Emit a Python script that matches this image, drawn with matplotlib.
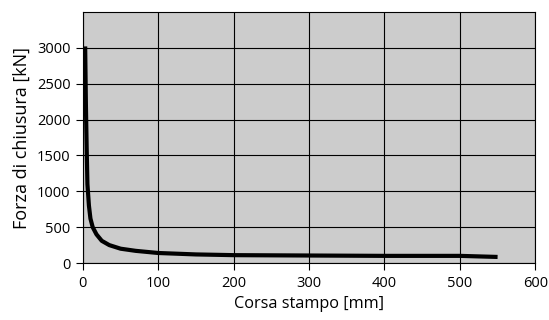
import matplotlib
matplotlib.use('Agg')
import matplotlib.pyplot as plt

# Corsa stampo [mm] vs Forza di chiusura [kN]
corsa = [3, 4, 5, 6, 8, 10, 13, 18, 25, 35, 50, 70, 100, 150, 200, 300, 400, 500, 550]
forza = [3020, 2200, 1600, 1100, 800, 620, 500, 400, 310, 250, 200, 170, 140, 120, 110, 105, 100, 100, 85]

x_ticks = [0, 100, 200, 300, 400, 500, 600]
y_ticks = [0, 500, 1000, 1500, 2000, 2500, 3000]

plt.rcParams['font.family'] = ['Open Sans', 'DejaVu Sans']

fig = plt.figure(figsize=(5.49, 3.2), dpi=100)
ax = fig.add_axes([0.151, 0.178, 0.824, 0.7845])
ax.set_facecolor('#cccccc')

ax.plot(corsa, forza, color='black', linewidth=3, solid_capstyle='butt')

ax.set_xlim(0, 600)
ax.set_ylim(0, 3500)
ax.set_xticks(x_ticks)
ax.set_yticks(y_ticks)
ax.grid(True, color='black', linewidth=0.8)
ax.set_axisbelow(True)
for s in ax.spines.values():
    s.set_color('black')
    s.set_linewidth(0.8)

ax.tick_params(direction='out', length=5, labelsize=10.5, color='black', pad=4)
ax.set_xlabel('Corsa stampo [mm]', fontsize=11.7, labelpad=4)
ax.set_ylabel('Forza di chiusura [kN]', fontsize=13, labelpad=4)

plt.savefig('out.png', dpi=100)
plt.close()
